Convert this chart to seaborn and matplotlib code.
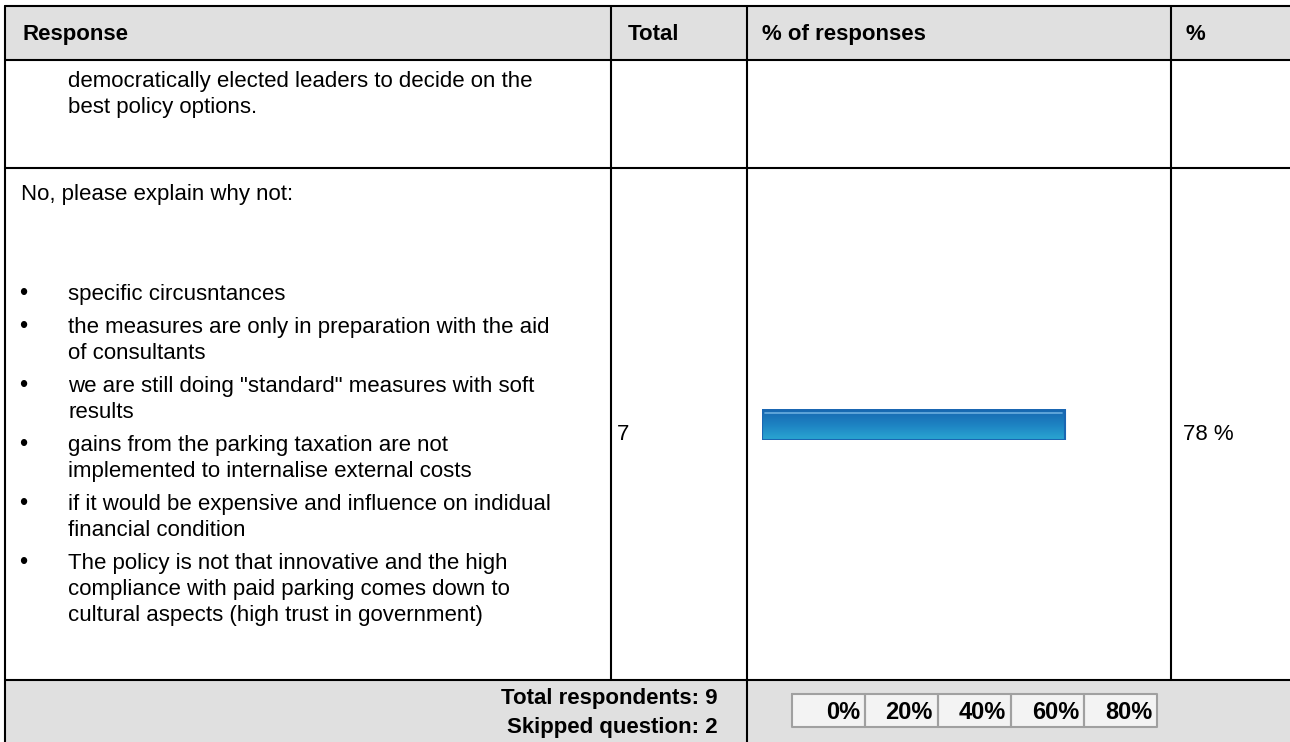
"""
Survey results table: one answer row with a horizontal share bar,
redrawn with matplotlib and seaborn.
"""

import matplotlib.pyplot as plt
import numpy as np
import seaborn as sns
from matplotlib.colors import LinearSegmentedColormap


# Table data
COLUMN_HEADERS = ["Response", "Total", "% of responses", "%"]

CARRYOVER_LINES = [
    "democratically elected leaders to decide on the",
    "best policy options.",
]

ANSWER_LABEL = "No, please explain why not:"

REASONS = [
    ["specific circusntances"],
    ["the measures are only in preparation with the aid", "of consultants"],
    ["we are still doing \"standard\" measures with soft", "results"],
    ["gains from the parking taxation are not",
     "implemented to internalise external costs"],
    ["if it would be expensive and influence on indidual",
     "financial condition"],
    ["The policy is not that innovative and the high",
     "compliance with paid parking comes down to",
     "cultural aspects (high trust in government)"],
]

answer_totals = [7]
answer_percents = [78]

TOTAL_RESPONDENTS = 9
SKIPPED_QUESTION = 2
SCALE_TICKS = [0, 20, 40, 60, 80]

FONT = "Liberation Sans"
HEADER_GREY = "#e0e0e0"
LINE_W = 1.5


def draw_table(ax: plt.Axes) -> None:
    """
    Draw grid lines, backgrounds and all the table text.
    """

    # header and footer bands
    ax.fill_between([5, 1290], 6, 60, color=HEADER_GREY, lw=0)
    ax.fill_between([5, 1290], 680, 742, color=HEADER_GREY, lw=0)

    # horizontal rules
    for y in [6, 60, 168, 680]:
        ax.plot([5, 1290], [y, y], color="black", lw=LINE_W)

    # vertical rules
    ax.plot([5, 5], [6, 742], color="black", lw=LINE_W)
    ax.plot([611, 611], [6, 680], color="black", lw=LINE_W)
    ax.plot([747, 747], [6, 742], color="black", lw=LINE_W)
    ax.plot([1171, 1171], [6, 680], color="black", lw=LINE_W)

    body = dict(family=FONT, fontsize=16, va="baseline", color="black")
    bold = dict(body, fontweight="bold")

    # header
    for x, label in zip([22, 628, 762, 1186], COLUMN_HEADERS):
        ax.text(x, 40, label, **bold)

    # carried-over text from the previous item
    for i, line in enumerate(CARRYOVER_LINES):
        ax.text(68, 87 + i * 26, line, **body)

    # answer row
    ax.text(21, 200, ANSWER_LABEL, **body)
    y = 300
    for reason in REASONS:
        ax.text(19, y, "\u2022", **dict(body, fontsize=17))
        for line in reason:
            ax.text(68, y, line, **body)
            y += 26
        y += 7

    ax.text(617, 440, str(answer_totals[0]), **body)
    ax.text(1183, 440, f"{answer_percents[0]} %", **body)

    # footer
    ax.text(718, 704, f"Total respondents: {TOTAL_RESPONDENTS}",
            ha="right", **bold)
    ax.text(718, 733, f"Skipped question: {SKIPPED_QUESTION}",
            ha="right", **bold)

    # percentage scale
    cell_w = 73
    left = 792
    ax.fill_between([left, left + cell_w * len(SCALE_TICKS)], 694, 727,
                    color="#f3f3f3", lw=0)
    for i, tick in enumerate(SCALE_TICKS):
        x0 = left + i * cell_w
        ax.plot([x0, x0 + cell_w, x0 + cell_w, x0, x0],
                [694, 694, 727, 727, 694], color="#a0a0a0", lw=1.5)
        ax.text(x0 + cell_w - 5, 719, f"{tick}%", ha="right",
                **dict(bold, fontsize=17))


def draw_bar(fig: plt.Figure) -> None:
    """
    Draw the share bar with a seaborn barplot and a blue gradient.
    """

    bar_ax = fig.add_axes([762 / 1290, 1 - 440 / 742, 388 / 1290, 31 / 742])

    sns.barplot(
        x=answer_percents,
        y=[ANSWER_LABEL],
        orient="h",
        width=1.0,
        color="#1f86c4",
        edgecolor="#1a66b2",
        linewidth=1.5,
        ax=bar_ax
    )

    patch = bar_ax.patches[0]
    x0 = patch.get_x()
    x1 = x0 + patch.get_width()
    y0 = patch.get_y()
    y1 = y0 + patch.get_height()

    gradient = np.linspace(0, 1, 64).reshape(-1, 1)
    cmap = LinearSegmentedColormap.from_list(
        "bar_blue", ["#1767b0", "#1d82c2", "#2aa6d2"]
    )
    image = bar_ax.imshow(
        gradient,
        extent=[x0, x1, y1, y0],
        aspect="auto",
        cmap=cmap,
        origin="upper",
        zorder=patch.get_zorder() + 0.1
    )
    image.set_clip_path(patch)

    # thin highlight near the top edge
    bar_ax.plot([x0 + 0.8, x1 - 0.8], [y0 + 0.12, y0 + 0.12],
                color="#6aaee0", lw=1.2, zorder=patch.get_zorder() + 0.2)

    patch.set_zorder(patch.get_zorder() + 0.3)
    patch.set_facecolor("none")

    bar_ax.set_xlim(0, 100)
    bar_ax.set_ylim(0.5, -0.5)
    bar_ax.axis("off")


def main() -> None:
    sns.set_style("white")
    plt.rcParams["font.family"] = [FONT, "DejaVu Sans"]

    fig = plt.figure(figsize=(12.9, 7.42), dpi=100)
    fig.patch.set_facecolor("white")

    ax = fig.add_axes([0, 0, 1, 1])
    ax.set_xlim(0, 1290)
    ax.set_ylim(742, 0)
    ax.axis("off")

    draw_table(ax)
    draw_bar(fig)

    fig.savefig("out.png", dpi=100)


if __name__ == "__main__":
    main()
